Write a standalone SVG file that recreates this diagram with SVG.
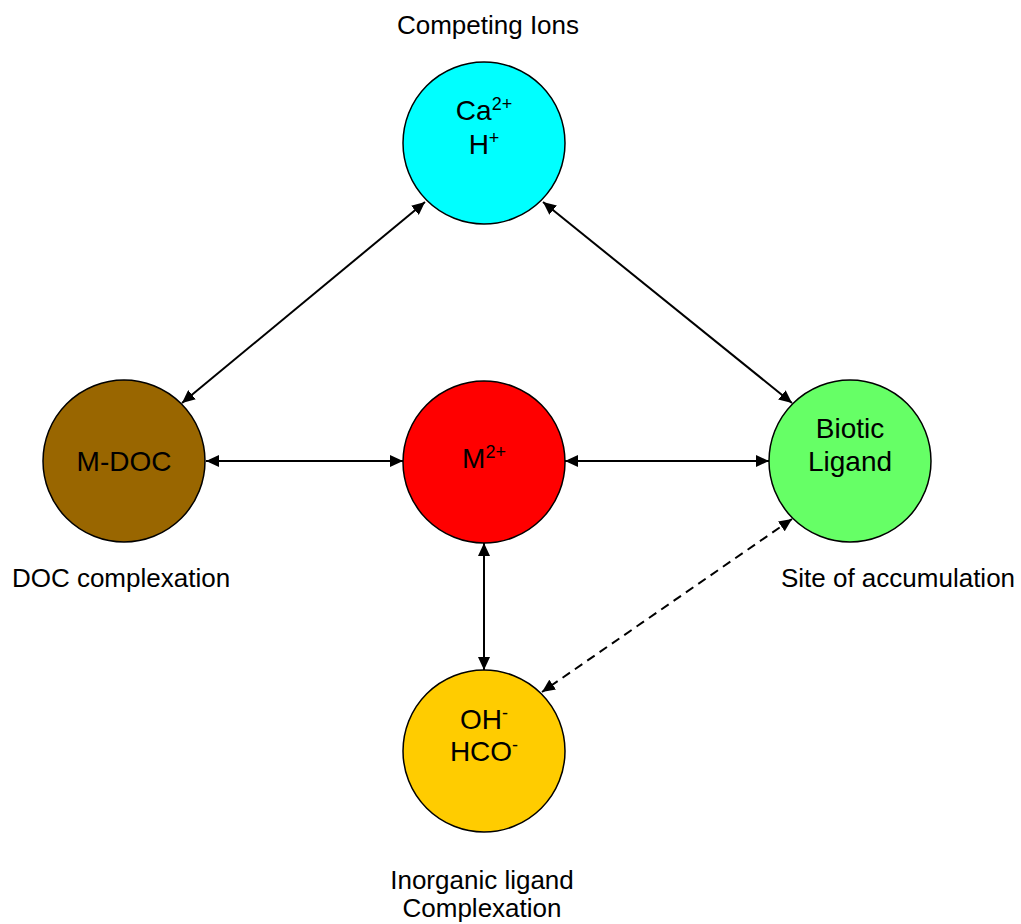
<svg xmlns="http://www.w3.org/2000/svg" width="1021" height="924" viewBox="0 0 1021 924">
<style>
text{font-family:"Liberation Sans",Arial,sans-serif;fill:#000;}
.in{font-size:28px;text-anchor:middle;}
.lbl{font-size:26px;text-anchor:middle;}
.sup{font-size:18px;}
.node{stroke:#000;stroke-width:1.5;}
.conn{stroke:#000;stroke-width:2;fill:none;marker-start:url(#ah);marker-end:url(#ah);}
.dash{stroke-dasharray:9,6;}
</style>
<defs>
<marker id="ah" markerUnits="userSpaceOnUse" markerWidth="14" markerHeight="12" refX="13" refY="6" orient="auto-start-reverse" viewBox="0 0 14 12">
<path d="M0,0 L13,6 L0,12 z" fill="#000"/>
</marker>
</defs>
<rect width="1021" height="924" fill="#fff"/>
<g id="connectors">
<line class="conn" x1="182" y1="403" x2="425" y2="202"/>
<line class="conn" x1="543" y1="202" x2="792" y2="403"/>
<line class="conn" x1="206" y1="461" x2="403" y2="461"/>
<line class="conn" x1="565" y1="461" x2="769" y2="461"/>
<line class="conn" x1="484" y1="543" x2="484" y2="670"/>
<line class="conn dash" x1="792" y1="519" x2="542" y2="692"/>
</g>
<g id="node-ions">
<circle class="node" cx="484" cy="143" r="81" fill="#00FFFF"/>
<text class="in" x="484" y="120">Ca<tspan class="sup" dy="-10">2+</tspan></text>
<text class="in" x="484" y="154">H<tspan class="sup" dy="-10">+</tspan></text>
</g>
<g id="node-mdoc">
<circle class="node" cx="124" cy="461" r="81" fill="#996600"/>
<text class="in" x="124" y="471">M-DOC</text>
</g>
<g id="node-metal">
<circle class="node" cx="484" cy="462" r="81" fill="#FF0000"/>
<text class="in" x="484" y="468">M<tspan class="sup" dy="-10">2+</tspan></text>
</g>
<g id="node-biotic">
<circle class="node" cx="850" cy="461" r="81" fill="#66FF66"/>
<text class="in" x="850" y="438">Biotic</text>
<text class="in" x="850" y="471">Ligand</text>
</g>
<g id="node-inorganic">
<circle class="node" cx="484" cy="751" r="81" fill="#FFCC00"/>
<text class="in" x="484" y="729">OH<tspan class="sup" dy="-10">-</tspan></text>
<text class="in" x="484" y="761">HCO<tspan class="sup" dy="-10">-</tspan></text>
</g>
<g id="labels">
<text class="lbl" x="488" y="34">Competing Ions</text>
<text class="lbl" x="121" y="587">DOC complexation</text>
<text class="lbl" x="898" y="587">Site of accumulation</text>
<text class="lbl" x="482" y="889">Inorganic ligand</text>
<text class="lbl" x="482" y="917">Complexation</text>
</g>
</svg>
